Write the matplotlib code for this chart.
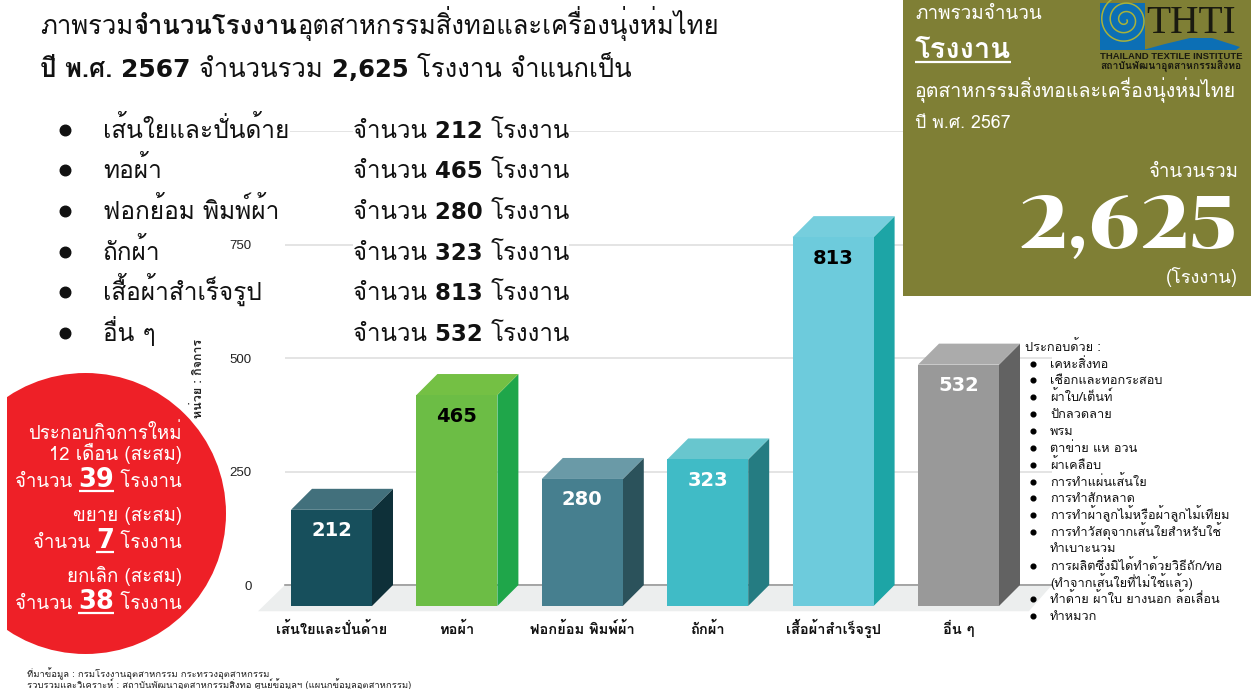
import numpy as np
import matplotlib
matplotlib.use('Agg')
import matplotlib.pyplot as plt
from matplotlib.patches import Polygon, Rectangle, Circle

# ---------- data ----------
categories = ['เส้นใยและปั่นด้าย', 'ทอผ้า', 'ฟอกย้อม พิมพ์ผ้า', 'ถักผ้า', 'เสื้อผ้าสำเร็จรูป', 'อื่น ๆ']
factories = [212, 465, 280, 323, 813, 532]
front_colors = ['#174F5C', '#6CBD45', '#467F8F', '#40BBC6', '#6DCBDC', '#999999']
top_colors = ['#42707C', '#74C044', '#6A9AA7', '#68C6CE', '#76CEDD', '#ABABAB']
side_colors = ['#0E3039', '#1FA64A', '#2B525B', '#257C82', '#1DA5A6', '#626262']
value_colors = ['white', 'black', 'white', 'white', 'black', 'white']
y_ticks = [0, 250, 500, 750, 1000]
y_tick_labels = ['0', '250', '500', '750', '']
total = '2,625'
other_items = ['เคหะสิ่งทอ', 'เชือกและทอกระสอบ', 'ผ้าใบ/เต็นท์', 'ปักลวดลาย', 'พรม', 'ตาข่าย แห อวน',
               'ผ้าเคลือบ', 'การทำแผ่นเส้นใย', 'การทำสักหลาด', 'การทำผ้าลูกไม้หรือผ้าลูกไม้เทียม',
               'การทำวัสดุจากเส้นใยสำหรับใช้', 'ทำเบาะนวม', 'การผลิตซึ่งมิได้ทำด้วยวิธีถัก/ทอ',
               '(ทำจากเส้นใยที่ไม่ใช้แล้ว)', 'ทำด้าย ผ้าใบ ยางนอก ล้อเลื่อน', 'ทำหมวก']
other_bullets = [1, 1, 1, 1, 1, 1, 1, 1, 1, 1, 1, 0, 1, 0, 1, 1]

TH = ['Loma', 'DejaVu Sans']
TL = ['Loma', 'DejaVu Sans']
W = ['DejaVu Sans']
plt.rcParams['font.family'] = TL

fig = plt.figure(figsize=(12.51, 6.89), dpi=100, facecolor='white')
FW, FH = 1251.0, 689.0

# ---------- chart axes ----------
px_left, px_right, px_zero, px_top = 285.0, 1052.0, 585.0, 131.3
ax = fig.add_axes([px_left / FW, 1 - px_zero / FH, (px_right - px_left) / FW, (px_zero - px_top) / FH])
step = 125.4
ax.set_xlim((px_left - 331.5) / step, (px_right - 331.5) / step)
ax.set_ylim(0, 1000)
upp = 1000 / (px_zero - px_top)
dx, dy = 21 / step, 21 * upp
hw = 40.5 / step
ax.set_facecolor('none')
for s in ['top', 'left', 'right']:
    ax.spines[s].set_visible(False)
ax.spines['bottom'].set_color('#999999')
ax.spines['bottom'].set_linewidth(1.2)
ax.set_yticks(y_ticks, y_tick_labels, family='Liberation Sans', fontsize=9.5, color='#222222')
ax.set_xticks(range(len(categories)), categories, family=TL, fontweight='bold', fontsize=10.5, color='#111111')
for lb in ax.get_xticklabels():
    lb.set_va('baseline')
ax.tick_params(axis='y', length=0, pad=24)
ax.tick_params(axis='x', length=0, pad=35)
ax.grid(axis='y', color='#DCDCDC', lw=1.1, zorder=0)
ax.set_axisbelow(True)
xl = ax.get_xlim()
floor = Polygon([(xl[0], 0), (xl[1], 0), (xl[1] - dx * 1.1, -dy * 1.25), (xl[0] - 27 / step, -dy * 1.25)],
                closed=True, fc='#ECEEEE', ec='none', clip_on=False, zorder=1)
ax.add_patch(floor)
for i, v in enumerate(factories):
    l, r, b, t = i - hw, i + hw, -dy, v - dy
    ax.add_patch(Polygon([(r, b), (r + dx, b + dy), (r + dx, t + dy), (r, t)], fc=side_colors[i], ec='none', clip_on=False, zorder=3))
    ax.add_patch(Polygon([(l, t), (r, t), (r + dx, t + dy), (l + dx, t + dy)], fc=top_colors[i], ec='none', clip_on=False, zorder=3))
    ax.add_patch(Rectangle((l, b), r - l, t - b, fc=front_colors[i], ec='none', clip_on=False, zorder=4))
    ax.annotate(str(v), (i, t), xytext=(0, -21 * 0.72), textcoords='offset points', ha='center', va='center',
                family='DejaVu Sans', fontweight='bold', fontsize=14, color=value_colors[i], zorder=5, annotation_clip=False)

# ---------- overlay in pixel coordinates ----------
ov = fig.add_axes([0, 0, 1, 1], zorder=5)
ov.set_xlim(0, FW)
ov.set_ylim(FH, 0)
ov.axis('off')
ov.patch.set_alpha(0)
rend = fig.canvas.get_renderer()

def adv(s, **kw):
    a = ov.text(0, 0, s + '|', **kw)
    b = ov.text(0, 0, '|', **kw)
    w = a.get_window_extent(rend).width - b.get_window_extent(rend).width
    a.remove(); b.remove()
    return w

def runs(x, y, parts, color='black', ha='left'):
    """parts: (text, size, family, weight, underline)"""
    ws = []
    for p in parts:
        ws.append(adv(p[0], fontsize=p[1], family=p[2], fontweight=p[3]))
    if ha == 'right':
        x -= sum(ws)
    for p, w in zip(parts, ws):
        ov.text(x, y, p[0], fontsize=p[1], family=p[2], fontweight=p[3], color=color, va='baseline', ha='left')
        if len(p) > 4 and p[4]:
            ov.plot([x, x + w], [y + 4, y + 4], color=color, lw=1.6, solid_capstyle='butt')
        x += w
    return x

# white backing of the list text over the gridlines
ov.add_patch(Rectangle((353, 118), 216, 228, fc='white', ec='none'))
ov.add_patch(Rectangle((103, 118), 187, 28, fc='white', ec='none'))

# title
S = 18.45
runs(40, 34, [('ภาพรวม', S, TH, 'normal'), ('จำนวนโรงงาน', S, TH, 'bold'),
              ('อุตสาหกรรมสิ่งทอและเครื่องนุ่งห่มไทย', S, TH, 'normal')], '#111111')
runs(40, 77, [('ปี พ.ศ. ', S, TH, 'bold'), ('2567 ', 18, W, 'bold'), ('จำนวนรวม ', S, TH, 'normal'), ('2,625 ', 17.5, W, 'bold'),
              ('โรงงาน จำแนกเป็น', S, TH, 'normal')], '#111111')

# list
ys = [138, 178, 219, 260, 300, 341]
L = 17.6
for y, c, v in zip(ys, categories, factories):
    ov.plot([65], [y - 8], 'o', color='#111111', ms=7.6)
    runs(103, y, [(c, L, TH, 'normal')], '#111111')
    runs(353, y, [('จำนวน ', 17.3, TH, 'normal'), (str(v) + ' ', 16.5, W, 'bold'), ('โรงงาน', 17.3, TH, 'normal')], '#111111')

# y label
ov.text(198, 379, 'หน่วย : กิจการ', rotation=90, ha='center', va='center', fontsize=9, family=TL, fontweight='bold', color='#222222')

# red circle
red = Circle((85.5, 513.5), 140.5, fc='#EE2027', ec='none')
ov.add_patch(red)
red.set_clip_path(Rectangle((7, 0), 1244, 689, transform=ov.transData))
Rr = 182
C = 13.4
runs(Rr, 439, [('ประกอบกิจการใหม่', C, TH, 'normal')], 'white', 'right')
runs(Rr, 460, [('12 เดือน (สะสม)', C, TH, 'normal')], 'white', 'right')
runs(Rr, 487, [('จำนวน ', C, TH, 'normal'), ('39', 18.5, W, 'bold', True), (' โรงงาน', C, TH, 'normal')], 'white', 'right')
runs(Rr, 521, [('ขยาย (สะสม)', C, TH, 'normal')], 'white', 'right')
runs(Rr, 548, [('จำนวน ', C, TH, 'normal'), ('7', 18.5, W, 'bold', True), (' โรงงาน', C, TH, 'normal')], 'white', 'right')
runs(Rr, 582, [('ยกเลิก (สะสม)', C, TH, 'normal')], 'white', 'right')
runs(Rr, 609, [('จำนวน ', C, TH, 'normal'), ('38', 18.5, W, 'bold', True), (' โรงงาน', C, TH, 'normal')], 'white', 'right')

# olive panel
ov.add_patch(Rectangle((903, 0), 348, 296, fc='#7F7F35', ec='none'))
runs(915, 19, [('ภาพรวมจำนวน', 13.6, TH, 'normal')], 'white')
runs(915, 58, [('โรงงาน', 21, TH, 'bold', True)], 'white')
runs(915, 97, [('อุตสาหกรรมสิ่งทอและเครื่องนุ่งห่มไทย', 14.05, TH, 'normal')], 'white')
runs(915, 128, [('ปี พ.ศ. 2567', 12.8, TH, 'normal')], 'white')
runs(1238, 177, [('จำนวนรวม', 13.4, TH, 'normal')], 'white', 'right')
ov.text(1238, 248, total, ha='right', va='baseline', fontsize=54, family=['Chonburi', 'DejaVu Serif'], color='white')
runs(1238, 283, [('(โรงงาน)', 13, TH, 'normal')], 'white', 'right')

# logo
ov.add_patch(Rectangle((1100, 3), 45, 47, fc='#0C6FB5', ec='none'))
th = np.linspace(0, 5.5 * np.pi, 300)
rad = 2 + th * 1.35
ov.plot(1125 + rad * np.cos(th), 20 + rad * np.sin(th), color='#A9B23A', lw=1.1, clip_path=Rectangle((1100, 3), 45, 47, transform=ov.transData))
ov.text(1146, 33, 'THTI', fontsize=28.4, family='Liberation Serif', color='#1A1A10', ha='left', va='baseline')
ov.add_patch(Polygon([(1143, 50), (1165, 44), (1190, 38), (1212, 38), (1240, 47), (1236, 50)], fc='#0C6FB5', ec='none'))
ov.text(1100, 59, 'THAILAND TEXTILE INSTITUTE', fontsize=6.8, family='Liberation Sans', fontweight='bold', color='#1A1A10', va='baseline')
ov.text(1100, 70, 'สถาบันพัฒนาอุตสาหกรรมสิ่งทอ', fontsize=7.4, family=TL, fontweight='bold', color='#1A1A10', va='baseline')

# composition list
ov.text(1025, 351, 'ประกอบด้วย :', fontsize=9.2, family=TL, color='#111111', va='baseline')
item_y = [368, 384, 401, 418, 435, 452, 469, 486, 502, 519, 536, 552, 570, 587, 603, 620]
for y, s, b in zip(item_y, other_items, other_bullets):
    if b:
        ov.plot([1033], [y - 4], 'o', color='black', ms=3.4)
    ov.text(1050, y, s, fontsize=9.2, family=TL, color='#111111', va='baseline')

# footer
ov.text(27, 677, 'ที่มาข้อมูล : กรมโรงงานอุตสาหกรรม กระทรวงอุตสาหกรรม', fontsize=6.8, family=TL, color='#222222', va='baseline')
ov.text(27, 688, 'รวบรวมและวิเคราะห์ : สถาบันพัฒนาอุตสาหกรรมสิ่งทอ ศูนย์ข้อมูลฯ (แผนกข้อมูลอุตสาหกรรม)', fontsize=6.8, family=TL, color='#222222', va='baseline')

fig.savefig('out.png', dpi=100)
